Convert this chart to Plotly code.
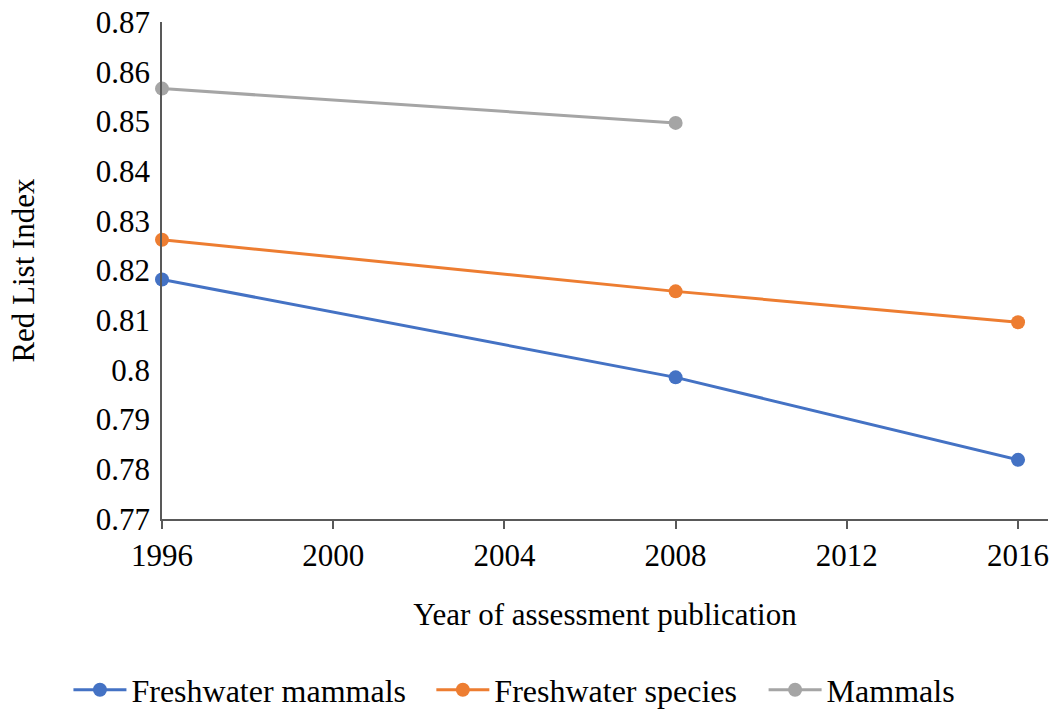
import plotly.graph_objects as go

# Red List Index by year of assessment publication
years_fw_mammals = [1996, 2008, 2016]
fw_mammals = [0.8182, 0.7985, 0.7819]

years_fw_species = [1996, 2008, 2016]
fw_species = [0.8262, 0.8158, 0.8096]

years_mammals = [1996, 2008]
mammals = [0.8566, 0.8497]

x_ticks = [1996, 2000, 2004, 2008, 2012, 2016]
y_ticks = [0.77, 0.78, 0.79, 0.80, 0.81, 0.82, 0.83, 0.84, 0.85, 0.86, 0.87]
y_tick_text = ["0.77", "0.78", "0.79", "0.8", "0.81", "0.82", "0.83", "0.84", "0.85", "0.86", "0.87"]

FONT = "Liberation Serif, Times New Roman, serif"

fig = go.Figure()
# one legend box per series so each entry sits at its own position along the bottom row
series = [
    ("Freshwater mammals", years_fw_mammals, fw_mammals, "#4472C4", "legend", -0.1056),
    ("Freshwater species", years_fw_species, fw_species, "#ED7D31", "legend2", 0.304),
    ("Mammals", years_mammals, mammals, "#A5A5A5", "legend3", 0.679),
]
legend_layout = {}
for name, xs, ys, color, leg, lx in series:
    fig.add_trace(go.Scatter(
        x=xs, y=ys, name=name, mode="lines+markers",
        line=dict(color=color, width=3),
        marker=dict(color=color, size=14),
        cliponaxis=False, legend=leg,
    ))
    legend_layout[leg] = dict(
        orientation="h", x=lx, xanchor="left",
        yref="container", y=0.031, yanchor="middle",
        font=dict(size=32), itemwidth=53, bgcolor="rgba(0,0,0,0)",
    )

fig.update_layout(
    width=1050, height=712,
    margin=dict(l=162, r=2, t=22, b=193),
    paper_bgcolor="white", plot_bgcolor="white",
    font=dict(family=FONT, size=31, color="black"),
    showlegend=True,
    **legend_layout,
)
fig.update_xaxes(
    range=[1996, 2016.7], tickvals=x_ticks,
    showgrid=False, zeroline=False,
    showline=True, linecolor="#595959", linewidth=1.5,
    ticks="outside", ticklen=8, tickcolor="#595959", tickwidth=1.5,
    tickfont=dict(size=31),
    title=dict(text="Year of assessment publication", font=dict(size=31), standoff=31),
)
fig.update_yaxes(
    range=[0.77, 0.87], tickvals=y_ticks, ticktext=y_tick_text,
    showgrid=False, zeroline=False,
    showline=True, linecolor="#595959", linewidth=1.5,
    ticks="", ticklabelstandoff=4,
    tickfont=dict(size=31),
    title=dict(text="Red List Index", font=dict(size=31), standoff=52),
)

fig.write_html("out.html")
